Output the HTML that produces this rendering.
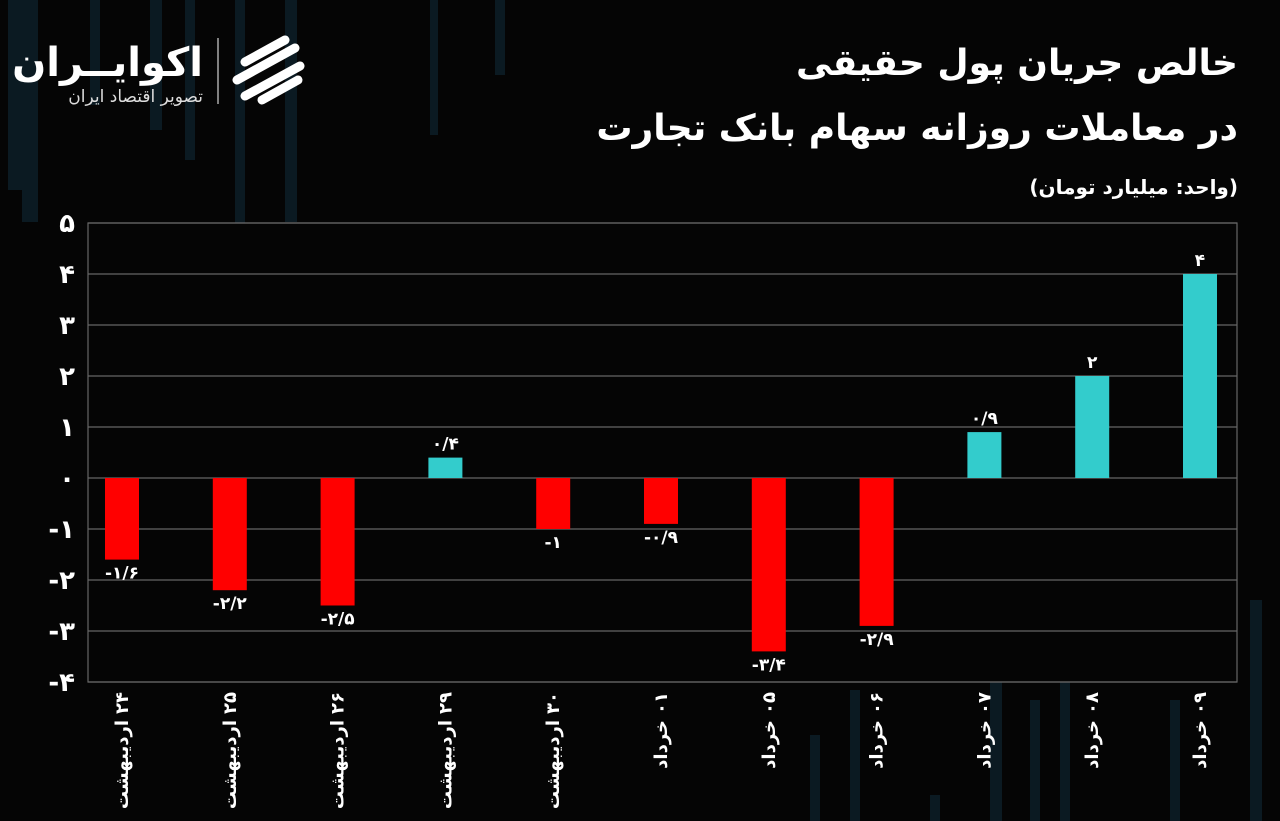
<!DOCTYPE html>
<html><head><meta charset="utf-8">
<style>
html,body{margin:0;padding:0;background:#050505;}
body{width:1280px;height:821px;overflow:hidden;position:relative;font-family:"Liberation Sans","Noto Sans CJK SC",sans-serif;}
svg{position:absolute;left:0;top:0;}
</style></head>
<body>
<svg id="chart" width="1280" height="821">
<g id="bg"></g>
<g>
 <text x="203" y="76" fill="#fff" font-size="40" font-weight="bold" text-anchor="end" font-family="'DejaVu Sans',sans-serif">اکوایــران</text>
 <text x="203" y="102" fill="#ddd" font-size="17" text-anchor="end" font-family="'DejaVu Sans',sans-serif">تصویر اقتصاد ایران</text>
 <line x1="218" y1="38" x2="218" y2="104" stroke="#aaa" stroke-width="1.5"/>
 <g fill="none" stroke="#fff" stroke-width="9" stroke-linecap="round">
  <path d="M245 62 L285 40"/><path d="M237 80 L295 48"/><path d="M245 96 L300 66"/><path d="M262 100 L298 80"/>
 </g>
</g>
<text x="1238" y="75" fill="#fff" font-size="36" font-weight="bold" text-anchor="end" font-family="'DejaVu Sans',sans-serif">خالص جریان پول حقیقی</text>
<text x="1238" y="140" fill="#fff" font-size="36" font-weight="bold" text-anchor="end" font-family="'DejaVu Sans',sans-serif">در معاملات روزانه سهام بانک تجارت</text>
<text x="1238" y="194" fill="#fff" font-size="20" font-weight="bold" text-anchor="end" font-family="'DejaVu Sans',sans-serif">(واحد: میلیارد تومان)</text>
<g id="grid"></g>
<g id="bars"></g>
<g id="xl"></g>
</svg>
<script>
const categoryMonths=["اردیبهشت","اردیبهشت","اردیبهشت","اردیبهشت","اردیبهشت","خرداد","خرداد","خرداد","خرداد","خرداد","خرداد"];
const categoryDays=["۲۴","۲۵","۲۶","۲۹","۳۰","۰۱","۰۵","۰۶","۰۷","۰۸","۰۹"];
const values=[-1.6,-2.2,-2.5,0.4,-1,-0.9,-3.4,-2.9,0.9,2,4];
const valueLabels=["-۱/۶","-۲/۲","-۲/۵","۰/۴","-۱","-۰/۹","-۳/۴","-۲/۹","۰/۹","۲","۴"];
const ticks=[5,4,3,2,1,0,-1,-2,-3,-4];
const tickLabels=["۵","۴","۳","۲","۱","۰","-۱","-۲","-۳","-۴"];
const NS="http://www.w3.org/2000/svg";
const L=88,R=1237,T=223,B=682,vmax=5,vmin=-4;
const y=v=>T+(vmax-v)*(B-T)/(vmax-vmin);
const first=122,last=1200;
const xc=i=>first+(last-first)*i/(values.length-1);
function mk(tag,attrs,parent){const e=document.createElementNS(NS,tag);for(const k in attrs)e.setAttribute(k,attrs[k]);parent.appendChild(e);return e;}
const bg=document.getElementById('bg');
const stripes=[[8,0,20,190],[22,0,16,222],[90,0,10,105],[150,0,12,130],[185,0,10,160],[235,0,10,235],[285,0,12,222],[430,0,8,135],[495,0,10,75],[990,600,12,221],[1030,700,10,121],[1060,680,10,141],[1250,600,12,221],[810,735,10,86],[850,690,10,131],[930,795,10,26],[1170,700,10,121]];
stripes.forEach(s=>{const r=mk('rect',{x:s[0],y:s[1],width:s[2],height:s[3],fill:'#0b1a22'},bg);

});
const g=document.getElementById('grid');
mk('rect',{x:L,y:T,width:R-L,height:B-T,fill:'#050505',stroke:'#666','stroke-width':1.2},g);
ticks.forEach((t,i)=>{
 const ln=mk('line',{x1:L,x2:R,y1:y(t),y2:y(t),stroke:'#666','stroke-width':1.2},g);
 
 
 const tx=mk('text',{x:75,y:y(t)+9,fill:'#fff','font-size':26,'font-weight':'bold','text-anchor':'end','font-family':"'DejaVu Sans',sans-serif"},g);
 tx.textContent=tickLabels[i];
 
 
});
const bars=document.getElementById('bars');
const bw=34;
values.forEach((v,i)=>{
 const y0=y(0),y1=y(v);
 const r=mk('rect',{x:xc(i)-bw/2,y:Math.min(y0,y1),width:bw,height:Math.abs(y1-y0),fill:v>=0?'#33cccc':'#ff0000'},bars);
 
 
 const t=mk('text',{x:xc(i),y:v>=0?y1-8:y1+19,fill:'#fff','font-size':17,'font-weight':'bold','text-anchor':'middle','font-family':"'DejaVu Sans',sans-serif"},bars);
 t.textContent=valueLabels[i];
 
 
});
const xl=document.getElementById('xl');
categoryDays.forEach((d,i)=>{
 const base={x:0,y:0,fill:'#fff','font-size':18,'font-weight':'bold','text-anchor':'end','font-family':"'DejaVu Sans',sans-serif"};
 const n=mk('text',Object.assign({},base,{transform:`translate(${xc(i)+6},692) rotate(-90)`}),xl);
 n.textContent=d;
 
 
 const w=n.getComputedTextLength()+6;
 const m=mk('text',Object.assign({},base,{transform:`translate(${xc(i)+6},${692+w}) rotate(-90)`}),xl);
 m.textContent=categoryMonths[i];
 
 
});
</script>
</body></html>
